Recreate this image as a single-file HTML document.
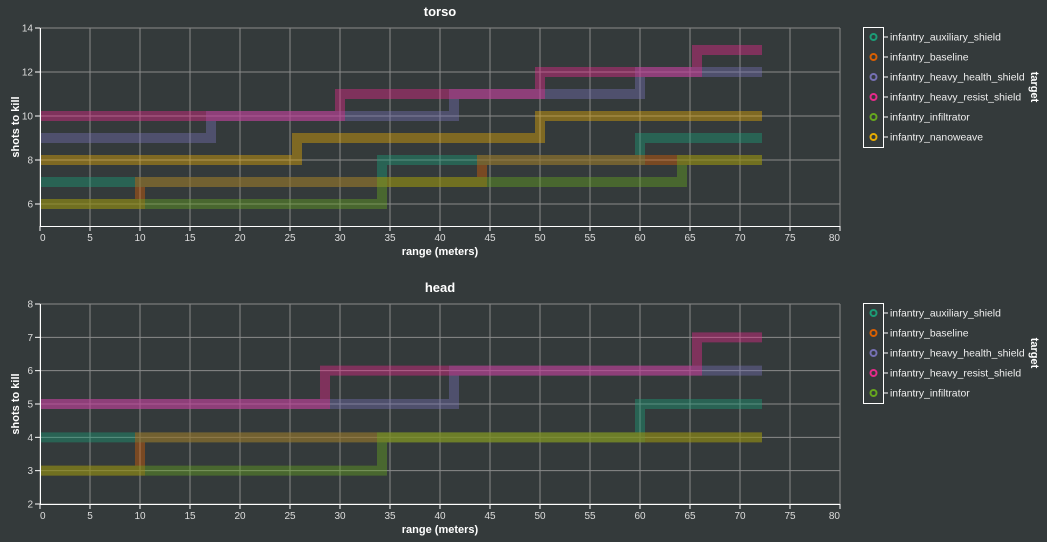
<!DOCTYPE html>
<html><head><meta charset="utf-8">
<style>
html,body{margin:0;padding:0;background:#343a3b;}
svg{display:block;font-family:"Liberation Sans",sans-serif;}
</style></head>
<body>
<svg id="chart" width="1047" height="542" viewBox="0 0 1047 542" xmlns="http://www.w3.org/2000/svg">
<rect width="1047" height="542" fill="#343a3b"/>
</svg>
<script>
const xTicks = [0,5,10,15,20,25,30,35,40,45,50,55,60,65,70,75,80];
const torsoYTicks = [6,8,10,12,14];
const headYTicks = [2,3,4,5,6,7,8];
const rangeEnd = 72.2;

const seriesNames = ["infantry_auxiliary_shield","infantry_baseline","infantry_heavy_health_shield","infantry_heavy_resist_shield","infantry_infiltrator","infantry_nanoweave"];
const seriesColors = ["#1b9e77","#d95f02","#7570b3","#e7298a","#66a61e","#e6ab02"];

// torso: step breakpoints (range) and shots-to-kill values
const torsoAuxRange = [0,34.2,60.0];      const torsoAuxShots = [7,8,9];
const torsoBaseRange = [0,10.0,44.2];     const torsoBaseShots = [6,7,8];
const torsoHealthRange = [0,17.1,41.4,60.0]; const torsoHealthShots = [9,10,11,12];
const torsoResistRange = [0,30.0,50.0,65.7]; const torsoResistShots = [10,11,12,13];
const torsoInfilRange = [0,34.2,64.2];    const torsoInfilShots = [6,7,8];
const torsoNanoRange = [0,25.7,50.0];     const torsoNanoShots = [8,9,10];

// head
const headAuxRange = [0,60.0];            const headAuxShots = [4,5];
const headBaseRange = [0,10.0];           const headBaseShots = [3,4];
const headHealthRange = [0,41.4];         const headHealthShots = [5,6];
const headResistRange = [0,28.5,65.7];    const headResistShots = [5,6,7];
const headInfilRange = [0,34.2];          const headInfilShots = [3,4];

const NS = "http://www.w3.org/2000/svg";
const svg = document.getElementById("chart");
function mk(tag, attrs, parent){
  const e = document.createElementNS(NS, tag);
  for (const k in attrs) e.setAttribute(k, attrs[k]);
  (parent||svg).appendChild(e);
  return e;
}

function panel(cfg){
  const g = mk("g", {});
  
  
  const x = v => 40 + (v - 0) / 80 * 800;
  const y = v => cfg.top + (cfg.ymax - v) / (cfg.ymax - cfg.ymin) * cfg.h;
  const bottom = cfg.top + cfg.h;
  xTicks.forEach(t => {
    const l = mk("line", {x1:x(t), x2:x(t), y1:cfg.top, y2:bottom, stroke:"#8a8a8a", "stroke-width":1}, g);
    
    
  });
  cfg.yTicks.forEach(t => {
    const l = mk("line", {x1:40, x2:840, y1:y(t), y2:y(t), stroke:"#8a8a8a", "stroke-width":1}, g);
    
    
  });
  cfg.series.forEach(s => {
    let d = "M" + x(s.r[0]) + "," + y(s.v[0]);
    for (let i = 1; i < s.r.length; i++) {
      d += " H" + x(s.r[i]) + " V" + y(s.v[i]);
    }
    d += " H" + x(rangeEnd);
    const p = mk("path", {d:d, fill:"none", stroke:seriesColors[s.i], "stroke-width":10, "stroke-opacity":0.42, "stroke-linejoin":"miter", "stroke-linecap":"butt"}, g);
    
    
  });
  const ax = mk("line", {x1:40, x2:840, y1:bottom+0.5, y2:bottom+0.5, stroke:"#ffffff", "stroke-width":1}, g);
  
  
  const ay = mk("line", {x1:40.5, x2:40.5, y1:cfg.top, y2:bottom, stroke:"#ffffff", "stroke-width":1}, g);
  
  
  xTicks.forEach(t => {
    const tk = mk("line", {x1:x(t), x2:x(t), y1:bottom, y2:bottom+5, stroke:"#ffffff"}, g);
    
    
    const tx = mk("text", {x:x(t), y:bottom+15, "text-anchor": t===0 ? "start" : (t===80 ? "end" : "middle"), "font-size":10, fill:"#dddddd"}, g);
    tx.textContent = t;
    
    
  });
  cfg.yTicks.forEach(t => {
    const tk = mk("line", {x1:35, x2:40, y1:y(t), y2:y(t), stroke:"#ffffff"}, g);
    
    
    const tx = mk("text", {x:33, y:y(t)+3.5, "text-anchor":"end", "font-size":10, fill:"#dddddd"}, g);
    tx.textContent = t;
    
    
  });
  const tt = mk("text", {x:440, y:cfg.top-12, "text-anchor":"middle", "font-size":13, "font-weight":"bold", fill:"#ffffff"}, g);
  tt.textContent = cfg.name;
  
  
  const xt = mk("text", {x:440, y:bottom+29, "text-anchor":"middle", "font-size":11, "font-weight":"bold", fill:"#ffffff"}, g);
  xt.textContent = "range (meters)";
  
  
  const yt = mk("text", {x:0, y:0, transform:"translate(19," + (cfg.top + cfg.h/2) + ") rotate(-90)", "text-anchor":"middle", "font-size":11, "font-weight":"bold", fill:"#ffffff"}, g);
  yt.textContent = "shots to kill";
  
  
  const lg = mk("g", {}, g);
  
  
  const n = cfg.legend.length;
  const box = mk("rect", {x:863.5, y:cfg.legTop+0.5, width:20, height:n*20, fill:"none", stroke:"#ffffff", "stroke-width":1}, lg);
  
  
  cfg.legend.forEach((i, k) => {
    const cy = cfg.legTop + 10 + k*20;
    const e = mk("g", {}, lg);
    
    
    mk("circle", {cx:873.5, cy:cy, r:3, fill:"none", stroke:seriesColors[i], "stroke-width":2}, e);
    mk("line", {x1:884, x2:888, y1:cy, y2:cy, stroke:"#ffffff"}, e);
    const t = mk("text", {x:890, y:cy+3.5, "font-size":10.4, fill:"#eeeeee"}, e);
    t.textContent = seriesNames[i];
  });
  const lt = mk("text", {x:0, y:0, transform:"translate(1031," + (cfg.legTop + n*10) + ") rotate(90)", "text-anchor":"middle", "font-size":11, "font-weight":"bold", fill:"#ffffff"}, lg);
  lt.textContent = "target";
  
  
}

panel({name:"torso", top:28, h:198, ymin:5, ymax:14, yTicks:torsoYTicks, legTop:27, legend:[0,1,2,3,4,5],
  series:[
    {i:0, r:torsoAuxRange, v:torsoAuxShots},
    {i:1, r:torsoBaseRange, v:torsoBaseShots},
    {i:2, r:torsoHealthRange, v:torsoHealthShots},
    {i:3, r:torsoResistRange, v:torsoResistShots},
    {i:4, r:torsoInfilRange, v:torsoInfilShots},
    {i:5, r:torsoNanoRange, v:torsoNanoShots}
  ]});
panel({name:"head", top:304, h:200, ymin:2, ymax:8, yTicks:headYTicks, legTop:303, legend:[0,1,2,3,4],
  series:[
    {i:0, r:headAuxRange, v:headAuxShots},
    {i:1, r:headBaseRange, v:headBaseShots},
    {i:2, r:headHealthRange, v:headHealthShots},
    {i:3, r:headResistRange, v:headResistShots},
    {i:4, r:headInfilRange, v:headInfilShots}
  ]});
</script>
</body></html>
